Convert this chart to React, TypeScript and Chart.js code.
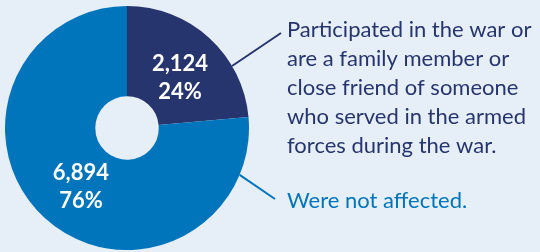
import React, { useEffect, useRef } from "react";
import { Chart, registerables } from "chart.js";

Chart.register(...registerables);

const categories = [
  "Participated in the war or are a family member or close friend of someone who served in the armed forces during the war.",
  "Were not affected.",
];
const values = [2124, 6894];
const percentLabels = ["24%", "76%"];
const noteLines = [
  ["Participated in the war or", "are a family member or", "close friend of someone", "who served in the armed", "forces during the war."],
  ["Were not affected."],
];
const colors = ["#27356f", "#0075bc"];
const BG = "#e6eef8";

const labelPlugin = {
  id: "labels",
  afterDatasetsDraw(chart: any) {
    const ctx = chart.ctx;
    const meta = chart.getDatasetMeta(0);
    const arcs = meta.data;
    ctx.save();
    // value labels
    ctx.fillStyle = "#ffffff";
    ctx.font = "bold 22px Lato";
    ctx.textAlign = "center";
    ctx.textBaseline = "middle";
    const labelPos = [
      { r: 0.6, ang: (-43.6 * Math.PI) / 180 },
      { r: 0.613, ang: (128 * Math.PI) / 180 },
    ];
    arcs.forEach((arc: any, i: number) => {
      const { x, y, outerRadius } = arc.getProps(["x", "y", "outerRadius"], true);
      const r = outerRadius * labelPos[i].r;
      const cx = x + Math.cos(labelPos[i].ang) * r;
      const cy = y + Math.sin(labelPos[i].ang) * r;
      ctx.fillText(values[i].toLocaleString("en-US"), cx, cy - 14);
      ctx.fillText(percentLabels[i], cx, cy + 14);
    });

    // connector lines and notes
    const { x, y, outerRadius } = arcs[0].getProps(["x", "y", "outerRadius"], true);
    const lineDefs = [
      { ang: Math.atan2(-62, 105), end: [281, 33] },
      { ang: Math.atan2(47, 113), end: [275, 199] },
    ];
    lineDefs.forEach((d, i) => {
      ctx.strokeStyle = colors[i];
      ctx.lineWidth = 2;
      ctx.beginPath();
      ctx.moveTo(x + Math.cos(d.ang) * outerRadius, y + Math.sin(d.ang) * outerRadius);
      ctx.lineTo(d.end[0], d.end[1]);
      ctx.stroke();
    });

    ctx.textAlign = "left";
    ctx.textBaseline = "alphabetic";
    ctx.font = "22px Lato";
    ctx.fillStyle = colors[0];
    noteLines[0].forEach((t, k) => ctx.fillText(t, 287, 37 + k * 29));
    ctx.fillStyle = colors[1];
    noteLines[1].forEach((t, k) => ctx.fillText(t, 287, 208 + k * 29));
    ctx.restore();
  },
};

export default function App() {
  const ref = useRef<HTMLCanvasElement>(null);
  useEffect(() => {
    document.body.style.margin = "0";
    document.body.style.background = BG;
    const chart = new Chart(ref.current!, {
      type: "doughnut",
      data: {
        labels: categories,
        datasets: [
          {
            data: values,
            backgroundColor: colors,
            borderWidth: 0,
          },
        ],
      },
      options: {
        animation: false,
        responsive: false,
        cutout: "26%",
        layout: { padding: { left: 5, right: 291, top: 6, bottom: 2 } },
        plugins: {
          legend: { display: false },
          tooltip: { enabled: false },
        },
      },
      plugins: [labelPlugin],
    });
    return () => chart.destroy();
  }, []);
  return (
    <div style={{ width: 540, height: 252, background: BG }}>
      <canvas ref={ref} width={540} height={252} style={{ display: "block" }} />
    </div>
  );
}
